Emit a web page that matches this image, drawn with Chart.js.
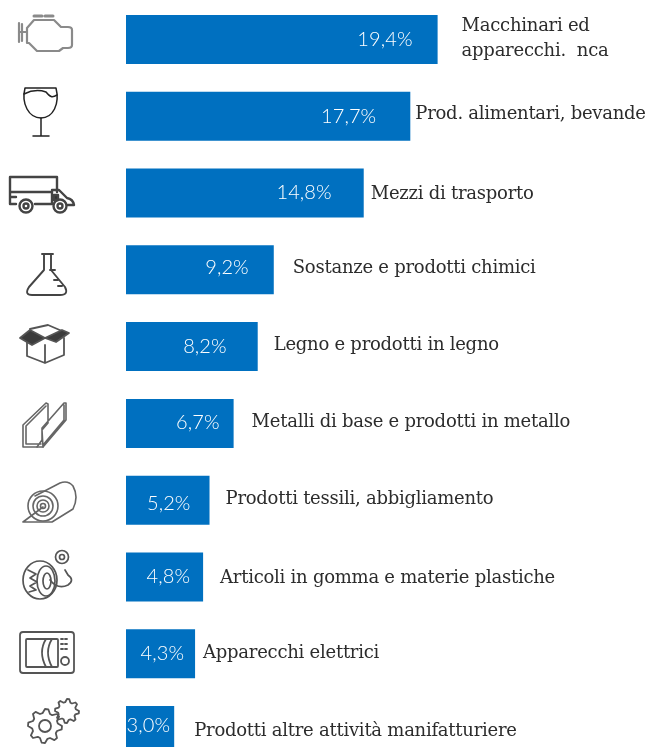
<!DOCTYPE html>
<html><head><meta charset="utf-8">
<script src="https://cdn.jsdelivr.net/npm/chart.js@4"></script>
<style>
html,body{margin:0;padding:0;background:#fff;overflow:hidden;width:646px;height:747px}
#wrap{position:absolute;left:0;top:0;width:646px;height:780px}
#icons{position:absolute;left:0;top:0;width:130px;height:747px;fill:none;stroke:#555;stroke-width:1.7;stroke-linejoin:round;stroke-linecap:round;filter:blur(.35px)}
</style></head><body>
<div id="wrap"><canvas id="c" width="646" height="780"></canvas></div>
<svg id="icons" viewBox="0 0 130 747">
<g stroke="#8a8a8a" stroke-width="2.2"><path d="M19 23V42M22 24V41M19 32H27M27 28L34 20H54L61 27H68Q72 27 72 30V45Q72 48 68 48H63L59 51H37L29 43H27V28Z"/><path d="M34 16H42M45 16H53" stroke-width="3"/></g>
<g stroke="#222" stroke-width="1.5"><path d="M25 88H56C60 104 53 118 41 118C29 118 21 104 25 88Z"/><path d="M24 94C32 90 40 90 46 92C50 97 52 98 57 95M41 118V136M33 136H49"/></g>
<g stroke="#444" stroke-width="2.4"><path d="M16 204H10V177H57V192M10 192H50M10 197H16M35 204H52V190H59L67 198Q73 199 74 205H68"/><circle cx="26" cy="206" r="6.5"/><circle cx="26" cy="206" r="2.5"/><circle cx="60" cy="206" r="6.5"/><circle cx="60" cy="206" r="2.5"/><path d="M54 195H58V200H54Z" fill="#333"/></g>
<g stroke="#444" stroke-width="1.9"><path d="M42 254H53M44 254V270L29 287Q24 295 32 295H60Q69 295 65 287L51 270V254M50 270H55M54 280H58M58 286H62"/></g>
<g stroke="#555" stroke-width="1.8"><path d="M27 340V356L45 363L64 355V338M45 345V363"/><path d="M30 329L48 325L62 331"/><path d="M20 338L30 330L45 338L32 345Z" fill="#3c3c3c"/><path d="M45 338L62 330L69 333L56 342Z" fill="#3c3c3c"/></g>
<g stroke="#666" stroke-width="1.6"><path d="M23 447V425L46 403L48 404V423L42 430V440L37 447ZM26 444V426L46 406M26 444H41M42 430L43 447L66 420V403L64 403L42 428ZM64 405V420L43 445"/><path d="M37 447H43"/></g>
<g stroke="#666" stroke-width="1.6"><path d="M23 522L43 507M23 522H52L73 509Q79 497 73 486Q68 480 60 483L35 496"/><circle cx="43" cy="506" r="15"/><circle cx="43" cy="506" r="10"/><circle cx="43" cy="506" r="6"/><circle cx="43" cy="506" r="2.5"/></g>
<g stroke="#555" stroke-width="1.7"><ellipse cx="40" cy="580" rx="17" ry="19"/><ellipse cx="46" cy="581" rx="9" ry="15"/><ellipse cx="47" cy="581" rx="4" ry="8"/><path d="M28 570L36 574L30 578L37 582L30 586L36 590L29 592M50 580Q58 590 68 585Q75 580 68 575L65 570"/><circle cx="62" cy="557" r="6.5"/><circle cx="62" cy="557" r="2.5"/></g>
<g stroke="#555" stroke-width="1.8"><rect x="20" y="632" width="54" height="41" rx="3"/><rect x="26" y="639" width="32" height="28" rx="1"/><path d="M46 639Q38 652 46 667M52 639Q44 652 52 667"/><circle cx="65" cy="661" r="4"/><path d="M61 639H69M61 644H69M61 649H69" stroke-dasharray="2 2"/></g>
<g id="gears" stroke="#555" stroke-width="1.8"></g>
</svg>
<script>
const categories=[["Macchinari ed","apparecchi.  nca"],["Prod. alimentari, bevande"],["Mezzi di trasporto"],["Sostanze e prodotti chimici"],["Legno e prodotti in legno"],["Metalli di base e prodotti in metallo"],["Prodotti tessili, abbigliamento"],["Articoli in gomma e materie plastiche"],["Apparecchi elettrici"],["Prodotti altre attività manifatturiere"]];
const shares=[19.4,17.7,14.8,9.2,8.2,6.7,5.2,4.8,4.3,3.0];
const valueLabels=["19,4%","17,7%","14,8%","9,2%","8,2%","6,7%","5,2%","4,8%","4,3%","3,0%"];

// layout only: hand-placed label offsets as in the reference
const valueRightInset=[25,34,32,25,31,14,19,13,11,4];
const valueDy=[0,0,0,-2,0,-1,3,0,0,-5];
const nameGap=[24,5,7,19,16,18,16,17,8,20];
const nameDy=[-1,-2,1,-1,-1,-1,-1,1,0,1];

const gearEl=document.getElementById('gears');
function gear(cx,cy,R,r,n){let d='';for(let i=0;i<n*4;i++){const a=i/(n*4)*2*Math.PI;const q=[R,R,r,r][i%4];d+=(i?'L':'M')+(cx+q*Math.cos(a)).toFixed(1)+' '+(cy+q*Math.sin(a)).toFixed(1);}return d+'Z';}
gearEl.innerHTML=`<path d="${gear(45,726,17,13,8)}"/><circle cx="45" cy="726" r="6"/><path d="${gear(67,711,12,9,8)}"/>`;

const labelPlugin={id:'labels',afterDatasetsDraw(chart){
 const ctx=chart.ctx,meta=chart.getDatasetMeta(0);
 ctx.save();ctx.textBaseline='middle';
 meta.data.forEach((el,i)=>{
  ctx.textAlign='right';ctx.fillStyle='#fff';ctx.font='300 20px Lato';ctx.letterSpacing='0.1px';
  ctx.fillText(valueLabels[i],el.x-valueRightInset[i],el.y+valueDy[i]);
  ctx.textAlign='left';ctx.fillStyle='#2c2c2c';ctx.font='18px "DejaVu Serif"';ctx.letterSpacing='-0.25px';
  const lines=categories[i],lh=25;
  lines.forEach((t,j)=>ctx.fillText(t,el.x+nameGap[i],el.y+nameDy[i]+(j-(lines.length-1)/2)*lh));
 });
 ctx.restore();
}};

new Chart(document.getElementById('c'),{
 type:'bar',
 data:{labels:categories.map(c=>c.join(' ')),datasets:[{data:shares,backgroundColor:'#0070c0',barPercentage:1,categoryPercentage:49/76.8}]},
 options:{responsive:false,animation:false,indexAxis:'y',
  layout:{padding:{left:126,right:6,top:1,bottom:11}},
  plugins:{legend:{display:false},tooltip:{enabled:false}},
  scales:{x:{display:false,min:0,max:32},y:{display:false}}},
 plugins:[labelPlugin]
});
</script>
</body></html>
